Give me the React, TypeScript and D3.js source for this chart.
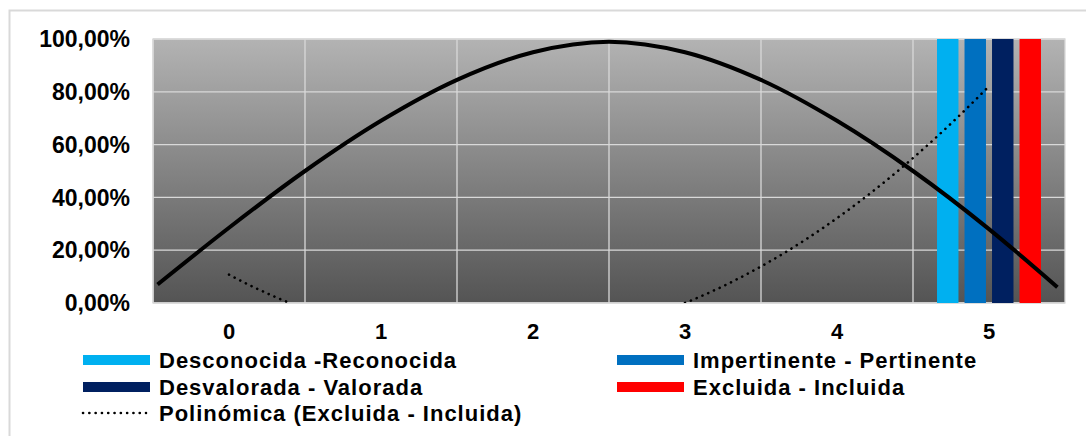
import React from "react";
import * as d3 from "d3";

const categories = ["0", "1", "2", "3", "4", "5"];
const seriesNames = [
  "Desconocida -Reconocida",
  "Impertinente - Pertinente",
  "Desvalorada - Valorada",
  "Excluida - Incluida",
];
const seriesColors = ["#00B0F0", "#0070C0", "#002060", "#FF0000"];
const desconocida = [0, 0, 0, 0, 0, 1];
const impertinente = [0, 0, 0, 0, 0, 1];
const desvalorada = [0, 0, 0, 0, 0, 1];
const excluida = [0, 0, 0, 0, 0, 1];
const seriesValues = [desconocida, impertinente, desvalorada, excluida];

// Solid black curve (x in category units, y as fraction)
const curveX = [-0.47, 0, 0.5, 1, 1.5, 2, 2.5, 3, 3.5, 4, 4.5, 5, 5.45];
const curveY = [0.07, 0.285, 0.5, 0.69, 0.845, 0.95, 0.99, 0.95, 0.845, 0.69, 0.5, 0.28, 0.06];

const yTicks = [0, 0.2, 0.4, 0.6, 0.8, 1.0];
const trendLabel = "Polinómica (Excluida - Incluida)";

// least-squares quadratic fit of a series (Excel "Polinómica" trendline, order 2)
function quadFit(xs: number[], ys: number[]) {
  const n = xs.length;
  const s = [0, 0, 0, 0, 0];
  const t = [0, 0, 0];
  for (let i = 0; i < n; i++) {
    const x = xs[i];
    for (let k = 0; k < 5; k++) s[k] += Math.pow(x, k);
    for (let k = 0; k < 3; k++) t[k] += ys[i] * Math.pow(x, k);
  }
  const A = [
    [s[0], s[1], s[2], t[0]],
    [s[1], s[2], s[3], t[1]],
    [s[2], s[3], s[4], t[2]],
  ];
  for (let i = 0; i < 3; i++) {
    for (let j = i + 1; j < 3; j++) {
      const f = A[j][i] / A[i][i];
      for (let k = i; k < 4; k++) A[j][k] -= f * A[i][k];
    }
  }
  const c = [0, 0, 0];
  for (let i = 2; i >= 0; i--) {
    let v = A[i][3];
    for (let k = i + 1; k < 3; k++) v -= A[i][k] * c[k];
    c[i] = v / A[i][i];
  }
  return (x: number) => c[0] + c[1] * x + c[2] * x * x;
}

export default function App() {
  const W = 1086;
  const H = 436;
  const left = 153;
  const right = 1065;
  const top = 39;
  const bottom = 303;

  const xBand = d3.scaleBand<string>().domain(categories).range([left, right]).padding(0);
  const xLin = d3.scaleLinear().domain([-0.5, categories.length - 0.5]).range([left, right]);
  const y = d3.scaleLinear().domain([0, 1]).range([bottom, top]);
  const bw = xBand.bandwidth();
  const sub = d3
    .scaleBand<string>()
    .domain(seriesNames)
    .range([bw * 0.158, bw * 0.842])
    .paddingInner(0.22)
    .paddingOuter(0);

  const curveLine = d3
    .line<number>()
    .x((_, i) => xLin(curveX[i]))
    .y((d) => y(d))
    .curve(d3.curveMonotoneX);

  const xsIdx = categories.map((_, i) => i);
  const fit = quadFit(xsIdx, excluida);
  const samples = d3.range(0, 5.0001, 0.02);
  const trendLine = d3
    .line<number>()
    .defined((x) => fit(x) >= 0)
    .x((x) => xLin(x))
    .y((x) => y(fit(x)));

  const font = "'Liberation Sans', Arial, sans-serif";
  const legendItems = [
    { name: seriesNames[0], color: seriesColors[0], x: 83, y: 360 },
    { name: seriesNames[1], color: seriesColors[1], x: 617, y: 360 },
    { name: seriesNames[2], color: seriesColors[2], x: 83, y: 387 },
    { name: seriesNames[3], color: seriesColors[3], x: 617, y: 387 },
  ];

  return (
    <svg
      width={W}
      height={H}
      style={{ position: "absolute", left: 0, top: 0, background: "#fff" }}
      fontFamily={font}
    >
      <defs>
        <linearGradient id="plotGrad" x1="0" y1="0" x2="0" y2="1">
          <stop offset="0" stopColor="#b3b3b3" />
          <stop offset="1" stopColor="#545454" />
        </linearGradient>
        <clipPath id="plotClip">
          <rect x={left} y={top} width={right - left} height={bottom - top} />
        </clipPath>
      </defs>
      <rect x={9.5} y={10.5} width={W + 10} height={H + 10} fill="#fff" stroke="#d9d9d9" strokeWidth={2} />
      <rect x={left} y={top} width={right - left} height={bottom - top} fill="url(#plotGrad)" />
      {yTicks.map((t) => (
        <line key={"h" + t} x1={left} x2={right} y1={y(t)} y2={y(t)} stroke="#d9d9d9" strokeWidth={1.3} />
      ))}
      {categories.map((c) => (
        <line
          key={"v" + c}
          x1={xBand(c)!}
          x2={xBand(c)!}
          y1={top}
          y2={bottom}
          stroke="#d9d9d9"
          strokeWidth={1.3}
        />
      ))}
      <rect x={left} y={top} width={right - left} height={bottom - top} fill="none" stroke="#d9d9d9" strokeWidth={1.3} />
      <g clipPath="url(#plotClip)">
        {seriesValues.map((vals, si) =>
          vals.map((v, ci) =>
            v > 0 ? (
              <rect
                key={si + "-" + ci}
                x={xBand(categories[ci])! + sub(seriesNames[si])!}
                y={y(v)}
                width={sub.bandwidth()}
                height={y(0) - y(v)}
                fill={seriesColors[si]}
              />
            ) : null
          )
        )}
        <path d={curveLine(curveY) || ""} fill="none" stroke="#000" strokeWidth={4} strokeLinecap="butt" />
        <path
          d={trendLine(samples) || ""}
          fill="none"
          stroke="#000"
          strokeWidth={2.6}
          strokeDasharray="0.1 6.2"
          strokeLinecap="round"
        />
      </g>
      {yTicks.map((t) => (
        <text
          key={"yl" + t}
          x={130}
          y={y(t)}
          dy="0.36em"
          textAnchor="end"
          fontSize={23}
          fontWeight="bold"
          fill="#000"
        >
          {(t * 100).toFixed(2).replace(".", ",") + "%"}
        </text>
      ))}
      {categories.map((c) => (
        <text
          key={"xl" + c}
          x={xBand(c)! + bw / 2}
          y={339}
          textAnchor="middle"
          fontSize={22}
          fontWeight="bold"
          fill="#000"
        >
          {c}
        </text>
      ))}
      {legendItems.map((it) => (
        <g key={it.name}>
          <rect x={it.x} y={it.y - 5} width={67} height={10} fill={it.color} />
          <text x={it.x + 76} y={it.y + 8} fontSize={22} fontWeight="bold" letterSpacing={1} fill="#000">
            {it.name}
          </text>
        </g>
      ))}
      <line
        x1={83}
        x2={146}
        y1={413}
        y2={413}
        stroke="#000"
        strokeWidth={2.6}
        strokeDasharray="0.1 6.2"
        strokeLinecap="round"
      />
      <text x={159} y={421} fontSize={22} fontWeight="bold" letterSpacing={1} fill="#000">
        {trendLabel}
      </text>
    </svg>
  );
}
